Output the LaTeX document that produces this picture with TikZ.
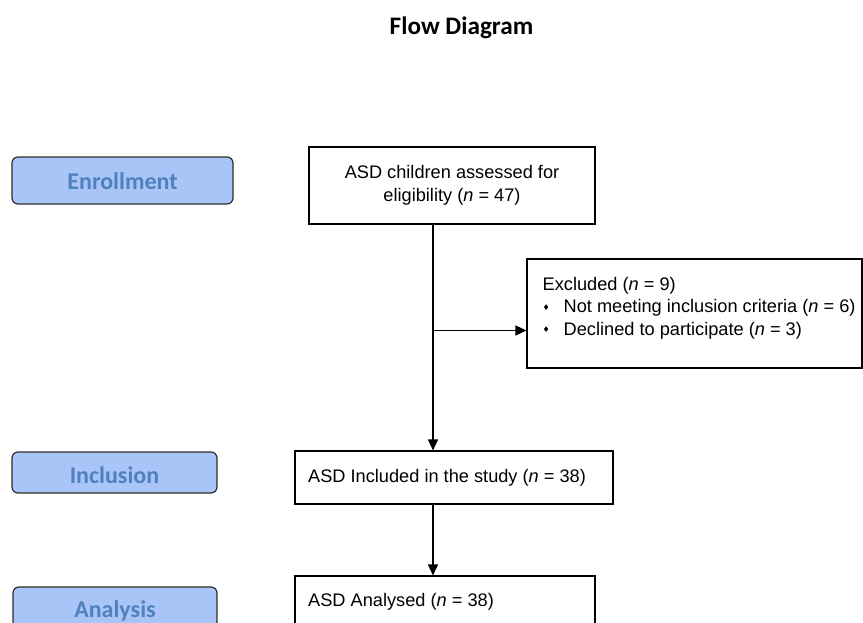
\documentclass[tikz,border=0pt]{standalone}
\usepackage{fontspec}
\setmainfont{Liberation Sans}
\newfontfamily\calib{Carlito}
\newfontfamily\dejavu{DejaVu Sans}
\usetikzlibrary{arrows.meta}
\definecolor{stagefill}{RGB}{169,197,248}
\definecolor{stagetext}{RGB}{80,129,190}
\definecolor{stageedge}{RGB}{45,45,45}
\newcommand{\dmbullet}{\makebox[21pt][l]{\hspace{0pt}\raisebox{2.5pt}{\dejavu\fontsize{8}{8}\selectfont ♦}}}
\tikzset{
  stagebox/.style={draw=stageedge, line width=1.2pt, fill=stagefill, rounded corners=6pt, inner sep=0pt},
  stagetxt/.style={font=\calib\bfseries\fontsize{24}{27}\selectfont, text=stagetext, anchor=base, inner sep=0pt},
  flowbox/.style={draw=black, line width=1.1pt, fill=white, inner sep=0pt,
    font=\fontsize{18.2}{23}\selectfont},
  flowtext/.style={font=\fontsize{18.2}{22.5}\selectfont, inner sep=0pt, align=left},
  flowarrow/.style={line width=1.4pt, -{Triangle[length=11pt,width=10pt]}}
}
\begin{document}
\begin{tikzpicture}[x=1pt,y=-1pt]
\useasboundingbox (0,0) rectangle (863,622);
\clip (0,0) rectangle (863,622);
\fill[white] (0,0) rectangle (863,622);

\node[font=\calib\bfseries\fontsize{25.2}{28}\selectfont, anchor=base] (title) at (461.5,34) {Flow Diagram};

% stage labels
\node[stagebox, minimum width=221pt, minimum height=47pt] (enr) at (122.5,180.5) {};
\node[stagetxt] (enrt) at (122.5,189) {Enrollment};
\node[stagebox, minimum width=205pt, minimum height=41pt] (inc) at (114.5,472.5) {};
\node[stagetxt] (inct) at (114.5,483) {Inclusion};
\node[stagebox, minimum width=204pt, minimum height=41pt] (ana) at (115,607.5) {};
\node[stagetxt] (anat) at (115,617) {Analysis};

% flow boxes
\node[flowbox, minimum width=286pt, minimum height=77pt, align=center] (assess) at (452,185.5)
  {ASD children assessed for\\eligibility (\textit{n} = 47)};
\node[flowbox, minimum width=335pt, minimum height=109pt] (excl) at (694.5,313.5) {};
\node[flowtext, anchor=north west] (exclt) at (542.5,277)
  {Excluded (\textit{n} = 9)\\
   \dmbullet Not meeting inclusion criteria (\textit{n} = 6)\\
   \dmbullet Declined to participate (\textit{n} = 3)};
\node[flowbox, minimum width=318pt, minimum height=53pt] (incl) at (454,477.5) {};
\node[flowtext, anchor=west] (inclt) at (308,478) {ASD Included in the study (\textit{n} = 38)};
\node[flowbox, minimum width=300pt, minimum height=64pt] (anal) at (445,608) {};
\node[flowtext, anchor=west] (analt) at (308,602) {ASD Analysed (\textit{n} = 38)};

% connectors
\coordinate (spine) at (433,0);
\coordinate (branch) at (433,330.5);
\draw[flowarrow] (assess.south -| spine) -- (incl.north -| spine);
\draw[flowarrow] (branch) -- (branch -| excl.west);
\draw[flowarrow] (incl.south -| spine) -- (anal.north -| spine);
\end{tikzpicture}
\end{document}
